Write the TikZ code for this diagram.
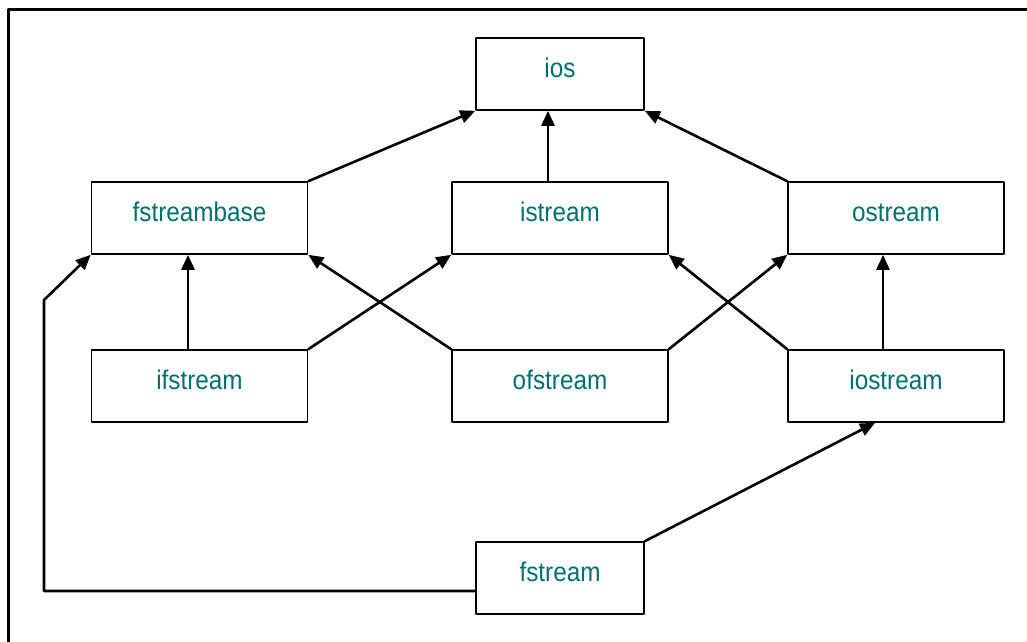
\documentclass[tikz,border=0pt]{standalone}
\usepackage{fontspec}
\setmainfont[FakeStretch=0.9]{Liberation Sans}
\usepackage[dvipsnames]{xcolor}
\usetikzlibrary{arrows}
\usetikzlibrary{arrows.meta}
\usetikzlibrary{positioning}
\definecolor{darkteal}{RGB}{0,112,110}
\begin{document}
\begin{tikzpicture}[line cap=round,line join=round,x=1pt,y=-1pt,
  cls/.style={draw=black,line width=1.6pt,minimum width=216pt,minimum height=72pt,inner sep=0pt,text height=20pt,text depth=13pt,text=darkteal,font=\fontsize{27}{30}\selectfont},
  clsnarrow/.style={cls,minimum width=168pt},
  inh/.style={line width=2.6pt,-{Triangle[length=15pt,width=13pt]}}]
\useasboundingbox (0,0) rectangle (1027,641);
\clip (0,0) rectangle (1027,641);
\draw[line width=3pt] (8.5,9) rectangle (1040,660);
% classes
\node[clsnarrow] (ios) at (560,74) {ios};
\node[cls] (fsbase) at (199.5,218) {fstreambase};
\node[cls] (istr) at (560,218) {istream};
\node[cls] (ostr) at (896,218) {ostream};
\node[cls] (ifstr) at (199.5,386) {ifstream};
\node[cls] (ofstr) at (560,386) {ofstream};
\node[cls] (iostr) at (896,386) {iostream};
\node[clsnarrow] (fstr) at (560,578) {fstream};
\coordinate (bendlow) at (44,591);
\coordinate (bendhigh) at (44,300);
% inheritance
\draw[inh] (fsbase.north east) -- (ios.south west);
\draw[inh] ([xshift=-12pt]istr.north) -- ([xshift=-12pt]ios.south);
\draw[inh] (ostr.north west) -- (ios.south east);
\draw[inh] ([xshift=-11.5pt]ifstr.north) -- ([xshift=-11.5pt]fsbase.south);
\draw[inh] (ifstr.north east) -- (istr.south west);
\draw[inh] (ofstr.north west) -- (fsbase.south east);
\draw[inh] (ofstr.north east) -- (ostr.south west);
\draw[inh] (iostr.north west) -- (istr.south east);
\draw[inh] ([xshift=-13pt]iostr.north) -- ([xshift=-13pt]ostr.south);
\draw[inh] (fstr.north east) -- ([xshift=-21pt]iostr.south);
\draw[inh] ([yshift=-13pt]fstr.west) -- (bendlow) -- (bendhigh) -- (fsbase.south west);
\end{tikzpicture}
\end{document}
